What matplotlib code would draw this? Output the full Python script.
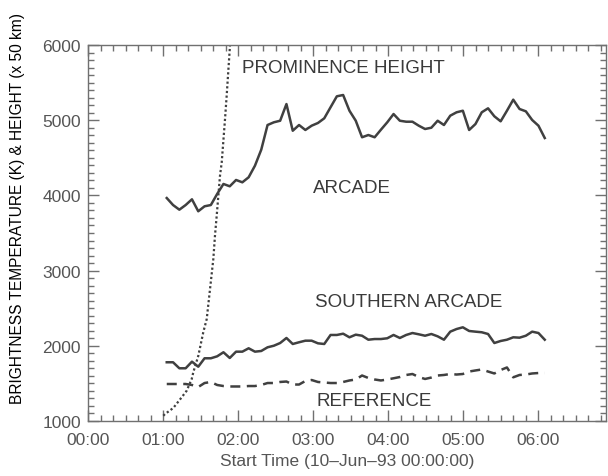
import matplotlib.pyplot as plt
import numpy as np
from matplotlib.ticker import MultipleLocator, FuncFormatter

plt.rcParams['font.family'] = ['Liberation Sans', 'DejaVu Sans']

# sample times (hours after 00:00), 5-minute cadence
t_start = 1.05
t_end = 6.09
n = 61
times = np.linspace(t_start, t_end, n)

arcade = [3965, 3872, 3810, 3872, 3948, 3789, 3855, 3872, 4019, 4152,
          4121, 4205, 4174, 4241, 4395, 4608, 4936, 4972, 4993, 5215,
          4860, 4936, 4870, 4927, 4963, 5025, 5172, 5318, 5335, 5126,
          4993, 4773, 4803, 4773, 4874, 4972, 5082, 4993, 4980, 4980,
          4927, 4883, 4900, 4993, 4936, 5060, 5105, 5126, 4870, 4949,
          5105, 5158, 5052, 4985, 5126, 5273, 5149, 5118, 5003, 4927,
          4763]

southern = [1781, 1781, 1701, 1701, 1789, 1722, 1834, 1834, 1860, 1914,
            1838, 1922, 1922, 1967, 1922, 1931, 1980, 2001, 2037, 2104,
            2024, 2047, 2068, 2068, 2033, 2024, 2144, 2144, 2161, 2113,
            2148, 2134, 2081, 2090, 2090, 2100, 2144, 2104, 2144, 2170,
            2153, 2134, 2157, 2126, 2081, 2188, 2223, 2246, 2197, 2188,
            2180, 2157, 2037, 2064, 2081, 2113, 2108, 2134, 2188, 2170,
            2081]

reference = [1492, 1492, 1492, 1492, 1479, 1452, 1505, 1519, 1479, 1465,
             1459, 1459, 1459, 1465, 1465, 1479, 1505, 1505, 1519, 1525,
             1485, 1485, 1532, 1545, 1519, 1512, 1505, 1505, 1519, 1539,
             1552, 1605, 1572, 1552, 1539, 1552, 1568, 1585, 1612, 1625,
             1585, 1559, 1578, 1605, 1612, 1625, 1618, 1625, 1658, 1672,
             1685, 1658, 1632, 1678, 1712, 1581, 1612, 1618, 1632, 1638,
             1638]

# prominence height (x 50 km)
prom_t = [1.004, 1.027, 1.137, 1.249, 1.316, 1.383, 1.404, 1.471, 1.537,
          1.583, 1.671, 1.693, 1.716, 1.760, 1.783, 1.827, 1.849, 1.893, 1.92]
prom_h = [1070, 1093, 1173, 1315, 1403, 1559, 1648, 1868, 2180,
          2356, 3154, 3464, 3730, 4262, 4440, 5016, 5326, 5991, 6400]

line_col = '#404040'
text_col = '#3a3a3a'
axis_col = '#707070'

fig = plt.figure(figsize=(6.08, 4.77), dpi=100)
ax = fig.add_axes([88 / 608, 1 - 422 / 477, (606 - 88) / 608, (422 - 46) / 477])

ax.plot(times, arcade, color=line_col, lw=1.8)
ax.plot(times, southern, color=line_col, lw=1.8)
ax.plot(times, reference, color=line_col, lw=1.8, linestyle=(0, (4, 2.6)))
ax.plot(prom_t, prom_h, color=line_col, lw=1.6, linestyle=(0, (1, 1.1)))

ax.set_xlim(0, (606 - 88) / 75)
ax.set_ylim(1000, 6000)

ax.xaxis.set_major_locator(MultipleLocator(1))
ax.xaxis.set_minor_locator(MultipleLocator(1 / 6))
ax.xaxis.set_major_formatter(FuncFormatter(lambda v, p: '%02d:00' % int(round(v))))
ax.yaxis.set_major_locator(MultipleLocator(1000))
ax.yaxis.set_minor_locator(MultipleLocator(100))

ax.tick_params(which='both', direction='in', top=True, right=True,
               color=axis_col, labelcolor='#555555', labelsize=12.5)
ax.tick_params(which='major', length=8, width=1)
ax.tick_params(which='minor', length=4, width=1)
ax.tick_params(axis='x', pad=8)
ax.tick_params(axis='y', pad=5)
for s in ax.spines.values():
    s.set_color(axis_col)
    s.set_linewidth(1)

ax.set_xlabel('Start Time (10\u2013Jun\u201393 00:00:00)', color='#555555',
              fontsize=12.5, labelpad=4)

fig.text(18 / 608, 1 - 208 / 477, 'BRIGHTNESS TEMPERATURE (K) & HEIGHT (x 50 km)',
         rotation=90, ha='center', va='center', fontsize=11.2, color='black')

ax.text(2.05, 5700, 'PROMINENCE HEIGHT', color=text_col, fontsize=13.5, va='center')
ax.text(3.0, 4100, 'ARCADE', color=text_col, fontsize=13.5, va='center')
ax.text(3.02, 2590, 'SOUTHERN ARCADE', color=text_col, fontsize=13.5, va='center')
ax.text(3.05, 1270, 'REFERENCE', color=text_col, fontsize=13.5, va='center')

fig.savefig('out.png', dpi=100)
